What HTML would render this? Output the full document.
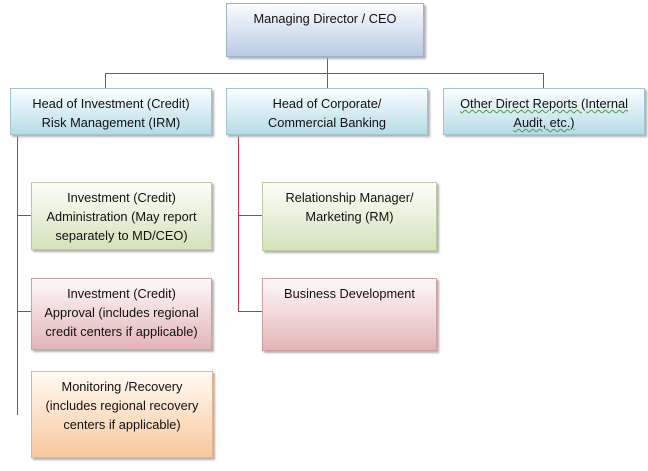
<!DOCTYPE html>
<html><head><style>
body{margin:0;width:648px;height:471px;background:#fff;position:relative;overflow:hidden;font-family:"Liberation Sans",sans-serif;font-size:12.8px;color:#111}
.b{position:absolute;box-sizing:border-box;border:1px solid #a9b9c9;text-align:center;line-height:19px;padding-top:5px;box-shadow:2px 2px 2px #b0b0b0;white-space:nowrap}
.blue{background:linear-gradient(#fbfcfe,#b8cbe4);border-color:#9fb3cc}
.cyan{background:linear-gradient(#fbfeff,#b6dce6);border-color:#9ec6d2}
.green{background:linear-gradient(#fdfef9,#d4e2bb);border-color:#bccca0}
.pink{background:linear-gradient(#fff9f9,#e3b5b7);border-color:#d19ea2}
.orange{background:linear-gradient(#fffaf3,#f8c89e);border-color:#eab488}
u{text-decoration:underline wavy #4a9a4a;text-decoration-thickness:1px}
.l{position:absolute;background:#c0394a}
</style></head><body>
<div class="l" style="left:105px;top:73px;width:439px;height:1px"></div>
<div class="l" style="left:327px;top:57px;width:1px;height:31px"></div>
<div class="l" style="left:105px;top:73px;width:1px;height:15px"></div>
<div class="l" style="left:543px;top:73px;width:1px;height:15px"></div>
<div class="l" style="left:17px;top:135px;width:1px;height:280px"></div>
<div class="l" style="left:17px;top:215px;width:14px;height:1px"></div>
<div class="l" style="left:17px;top:311px;width:14px;height:1px"></div>
<div class="l" style="left:238px;top:135px;width:1px;height:177px"></div>
<div class="l" style="left:238px;top:215px;width:24px;height:1px"></div>
<div class="l" style="left:238px;top:311px;width:24px;height:1px"></div>
<div class="b blue" style="left:226px;top:3px;width:198px;height:54px">Managing Director / CEO</div>
<div class="b cyan" style="left:10px;top:88px;width:202px;height:47px">Head of Investment (Credit)<br>Risk Management (IRM)</div>
<div class="b cyan" style="left:226px;top:88px;width:202px;height:47px">Head of Corporate/<br>Commercial Banking</div>
<div class="b cyan" style="left:443px;top:88px;width:202px;height:47px"><u>Other Direct Reports (Internal</u><br><u>Audit, etc.)</u></div>
<div class="b green" style="left:31px;top:182px;width:181px;height:68px">Investment (Credit)<br>Administration (May report<br>separately to MD/CEO)</div>
<div class="b pink" style="left:31px;top:278px;width:181px;height:72px">Investment (Credit)<br>Approval (includes regional<br>credit centers if applicable)</div>
<div class="b orange" style="left:31px;top:371px;width:182px;height:87px">Monitoring /Recovery<br>(includes regional recovery<br>centers if applicable)</div>
<div class="b green" style="left:262px;top:182px;width:175px;height:69px">Relationship Manager/<br>Marketing (RM)</div>
<div class="b pink" style="left:262px;top:278px;width:175px;height:73px">Business Development</div>
</body></html>
